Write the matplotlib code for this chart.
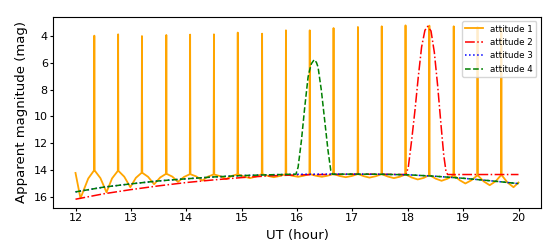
"""
Apparent magnitude of the satellite for four attitude modes, 12-20 UT.
"""

import matplotlib
matplotlib.use("Agg")
import matplotlib.pyplot as plt


# ---------------------------------------------------------------------------
# Data
# ---------------------------------------------------------------------------

# attitude 1: glint spikes every ~0.43 h with lobes in between
att1_ut = [
    12.00, 12.09, 12.23,
    12.334, 12.34, 12.346, 12.45, 12.56, 12.66,
    12.764, 12.77, 12.776, 12.88, 12.99, 13.09,
    13.194, 13.20, 13.206, 13.31, 13.42, 13.53,
    13.634, 13.64, 13.646, 13.75, 13.85, 13.96,
    14.064, 14.07, 14.076, 14.18, 14.29, 14.39,
    14.494, 14.50, 14.506, 14.61, 14.72, 14.82,
    14.924, 14.93, 14.936, 15.04, 15.15, 15.26,
    15.364, 15.37, 15.376, 15.48, 15.58, 15.69,
    15.794, 15.80, 15.806, 15.91, 16.02, 16.12,
    16.224, 16.23, 16.236, 16.34, 16.45, 16.55,
    16.654, 16.66, 16.666, 16.77, 16.88, 16.99,
    17.094, 17.10, 17.106, 17.21, 17.31, 17.42,
    17.524, 17.53, 17.536, 17.64, 17.75, 17.86,
    17.954, 17.96, 17.966, 18.07, 18.18, 18.29,
    18.384, 18.39, 18.396, 18.50, 18.61, 18.72,
    18.824, 18.83, 18.836, 18.94, 19.04, 19.15,
    19.254, 19.26, 19.266, 19.37, 19.48, 19.59,
    19.684, 19.69, 19.696, 19.80, 19.91, 20.00,
]
att1_mag = [
    14.23, 16.13, 14.65,
    14.05, 3.95, 14.05, 14.62, 15.68, 14.64,
    14.08, 3.85, 14.08, 14.51, 15.30, 14.60,
    14.22, 3.98, 14.22, 14.52, 15.08, 14.57,
    14.30, 3.90, 14.30, 14.51, 14.90, 14.53,
    14.33, 3.87, 14.33, 14.49, 14.80, 14.51,
    14.35, 3.85, 14.35, 14.47, 14.70, 14.46,
    14.33, 3.72, 14.33, 14.50, 14.62, 14.50,
    14.32, 3.80, 14.32, 14.46, 14.55, 14.46,
    14.32, 3.55, 14.32, 14.44, 14.52, 14.44,
    14.32, 3.55, 14.32, 14.44, 14.52, 14.44,
    14.32, 3.38, 14.32, 14.46, 14.55, 14.46,
    14.32, 3.30, 14.32, 14.48, 14.58, 14.48,
    14.33, 3.25, 14.33, 14.50, 14.62, 14.51,
    14.35, 3.18, 14.35, 14.57, 14.72, 14.60,
    14.40, 3.20, 14.40, 14.65, 14.82, 14.66,
    14.42, 3.25, 14.42, 14.78, 15.02, 14.78,
    14.42, 3.30, 14.42, 14.86, 15.15, 14.85,
    14.40, 3.40, 14.40, 14.94, 15.30, 14.95,
]

# attitude 2: one broad brightening around 18.4 UT
att2_ut = [12.0, 12.5, 13.0, 13.5, 14.0, 14.5, 15.0, 15.5, 16.0, 16.5,
           17.0, 17.5, 17.97, 18.01, 18.07, 18.13, 18.19, 18.25, 18.31,
           18.36, 18.42, 18.48, 18.54, 18.60, 18.65, 18.69, 18.72, 19.0,
           19.5, 20.0]
att2_mag = [16.20, 15.80, 15.48, 15.20, 14.95, 14.75, 14.58, 14.45, 14.38,
            14.35, 14.33, 14.33, 14.35, 13.80, 11.80, 9.55, 7.05, 4.80,
            3.55, 3.25, 3.60, 5.20, 7.70, 10.60, 12.90, 14.10, 14.35,
            14.35, 14.35, 14.35]

# attitude 3: smooth diffuse curve
att3_ut = [12.0, 12.5, 13.0, 13.5, 14.0, 14.5, 15.0, 15.5, 16.0, 16.5,
           17.0, 17.5, 18.0, 18.5, 19.0, 19.5, 20.0]
att3_mag = [15.65, 15.30, 15.05, 14.83, 14.67, 14.53, 14.43, 14.37, 14.33,
            14.32, 14.32, 14.33, 14.37, 14.48, 14.63, 14.82, 15.03]

# attitude 4: as attitude 3 plus a brightening around 16.3 UT
att4_ut = [12.0, 12.5, 13.0, 13.5, 14.0, 14.5, 15.0, 15.5, 15.98, 16.02,
           16.08, 16.14, 16.20, 16.23, 16.26, 16.31, 16.35, 16.38, 16.44,
           16.50, 16.56, 16.61, 16.64, 17.0, 17.5, 18.0, 18.5, 19.0, 19.5,
           20.0]
att4_mag = [15.65, 15.30, 15.05, 14.83, 14.67, 14.53, 14.43, 14.37, 14.33,
            13.80, 11.80, 9.30, 7.05, 6.50, 6.05, 5.75, 5.95, 6.30, 8.05,
            10.30, 12.55, 14.05, 14.33, 14.32, 14.33, 14.37, 14.48, 14.63,
            14.82, 15.03]

x_ticks = [12, 13, 14, 15, 16, 17, 18, 19, 20]
y_ticks = [4, 6, 8, 10, 12, 14, 16]


# ---------------------------------------------------------------------------
# Figure
# ---------------------------------------------------------------------------

fig = plt.figure(figsize=(5.5, 2.49), dpi=100)
ax = fig.add_axes([0.097, 0.165, 0.886, 0.768])

ax.plot(att1_ut, att1_mag, color="orange", linestyle="-", linewidth=1.3,
        label="attitude 1")
ax.plot(att2_ut, att2_mag, color="red", linestyle="-.", linewidth=1.1,
        label="attitude 2")
ax.plot(att3_ut, att3_mag, color="blue", linestyle=":", linewidth=1.1,
        label="attitude 3")
ax.plot(att4_ut, att4_mag, color="green", linestyle="--", linewidth=1.1,
        label="attitude 4")

ax.invert_yaxis()
ax.set_xticks(x_ticks)
ax.set_yticks(y_ticks)
ax.tick_params(labelsize=8, length=2.5, pad=1.5)

ax.set_xlabel("UT (hour)", fontsize=9.5)
ax.set_ylabel("Apparent magnitude (mag)", fontsize=9.5)

ax.legend(loc="upper right", fontsize=6.3)

fig.savefig("out.png", dpi=100)
